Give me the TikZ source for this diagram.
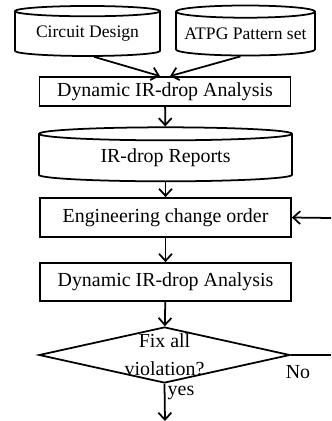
\documentclass[tikz,border=0pt]{standalone}
\usepackage{fontspec}
\setmainfont{Liberation Serif}
\usetikzlibrary{shapes.geometric, arrows.meta}

\tikzset{
  proc/.style={draw, rectangle, line width=1.5pt, minimum width=7.53cm, inner sep=0pt},
  dbase/.style={draw, cylinder, shape border rotate=90, aspect=0.1, line width=1.5pt, inner sep=0pt},
  decide/.style={draw, diamond, line width=1.5pt, minimum width=7.53cm, minimum height=1.68cm, inner sep=0pt},
  flow/.style={line width=1.5pt, -{Straight Barb[length=6pt, width=11pt]}},
  small/.style={font=\fontsize{15}{18}\selectfont}
}

\begin{document}
\begin{tikzpicture}[x=0.03cm, y=-0.03cm, font=\fontsize{17}{24}\selectfont]

  \useasboundingbox (0,0) rectangle (331,421);

  % Inputs
  \node (cd) [dbase, small, minimum width=4.35cm, minimum height=1.5cm] at (87.5,34) {Circuit Design};
  \node (atpg) [dbase, small, minimum width=4.17cm, minimum height=1.5cm] at (245.5,34) {ATPG Pattern set};

  \node (dyn1) [proc, minimum height=0.87cm] at (165,91.5) {Dynamic IR-drop Analysis};
  \node (rep) [dbase, minimum width=7.59cm, minimum height=1.62cm] at (165.5,158) {IR-drop Reports};
  \node (eco) [proc, minimum height=1.17cm] at (165.5,217.5) {Engineering change order};
  \node (dyn2) [proc, minimum height=1.14cm] at (165.5,282) {Dynamic IR-drop Analysis};

  % Decision
  \node (fix) [decide] at (164.5,355) {};
  \node (fixtxt) [align=center, inner sep=0pt] at (fix.center) {Fix all\\violation?};

  \coordinate (back) at (331,218);
  \coordinate (noend) at (331,355);
  \coordinate (done) at (165,421);

  \draw[flow] ([xshift=0.2cm]cd.south) -- ([xshift=-0.15cm]dyn1.north);
  \draw[flow] ([xshift=-0.15cm]atpg.south) -- ([xshift=0.15cm]dyn1.north);
  \draw[flow] (dyn1) -- (rep);
  \draw[flow] (rep) -- (eco);
  \draw[flow] (eco) -- (dyn2);
  \draw[flow] (dyn2) -- (fix);
  \draw[flow] (fix.south) -- (done);
  \draw[line width=1.5pt] (fix.east) -- (noend);
  \draw[flow] (back) -- (eco.east);

  \node (no) at (298,372) {No};
  \node (yes) at (181,393) {yes};

\end{tikzpicture}
\end{document}
